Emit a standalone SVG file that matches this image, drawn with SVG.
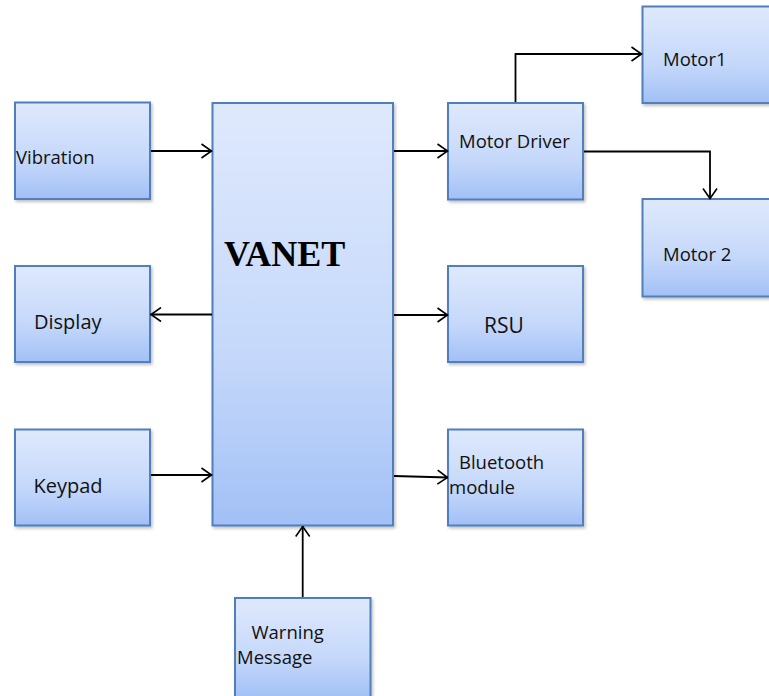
<svg xmlns="http://www.w3.org/2000/svg" width="769" height="696" viewBox="0 0 769 696">
  <defs>
    <linearGradient id="boxFill" x1="0" y1="0" x2="0" y2="1">
      <stop offset="0" stop-color="#dfe9fd"/>
      <stop offset="0.6" stop-color="#c5d8fa"/>
      <stop offset="1" stop-color="#a2c0f6"/>
    </linearGradient>
    <filter id="shadow" x="-10%" y="-10%" width="130%" height="130%">
      <feDropShadow dx="1.5" dy="2" stdDeviation="1.5" flood-color="#000" flood-opacity="0.25"/>
    </filter>
    <marker id="arrow" viewBox="0 0 12 16" refX="11.5" refY="8" markerWidth="12" markerHeight="16" markerUnits="userSpaceOnUse" orient="auto">
      <path d="M1,1 L11,8 L1,15" fill="none" stroke="#000" stroke-width="1.6"/>
    </marker>
  </defs>
  <style>
    .box { fill: url(#boxFill); stroke: #4f7fbd; stroke-width: 2; filter: url(#shadow); }
    .lbl { font-family: "Open Sans", "Liberation Sans", sans-serif; font-size: 18.5px; fill: #111; }
    .big { font-size: 20px; }
    .title { font-family: "Liberation Serif", "Times New Roman", serif; font-size: 36px; font-weight: bold; fill: #000; }
    .conn { fill: none; stroke: #000; stroke-width: 1.8; marker-end: url(#arrow); }
  </style>
  <rect width="769" height="696" fill="#fff"/>

  <g id="vibration">
    <rect class="box" x="15" y="102.5" width="135" height="96.5"/>
    <text class="lbl" x="16" y="164">Vibration</text>
  </g>
  <g id="display">
    <rect class="box" x="15" y="266" width="135" height="96"/>
    <text class="lbl big" x="34" y="329">Display</text>
  </g>
  <g id="keypad">
    <rect class="box" x="15" y="429.5" width="135" height="96"/>
    <text class="lbl big" x="33.5" y="492.5">Keypad</text>
  </g>
  <g id="vanet">
    <rect class="box" x="212.5" y="103" width="180.5" height="422.5"/>
    <text class="title" x="224" y="266">VANET</text>
  </g>
  <g id="warning">
    <rect class="box" x="235" y="598" width="135.5" height="100"/>
    <text class="lbl" x="251.5" y="638.5">Warning</text>
    <text class="lbl" x="237" y="664">Message</text>
  </g>
  <g id="motor-driver">
    <rect class="box" x="448" y="103" width="135" height="96.5"/>
    <text class="lbl" x="459" y="148">Motor Driver</text>
  </g>
  <g id="rsu">
    <rect class="box" x="448" y="266" width="135" height="96"/>
    <text class="lbl" x="484" y="332.5" style="font-size:21px">RSU</text>
  </g>
  <g id="bluetooth">
    <rect class="box" x="448" y="429.5" width="135" height="96"/>
    <text class="lbl" x="459" y="469">Bluetooth</text>
    <text class="lbl" x="449" y="494">module</text>
  </g>
  <g id="motor1">
    <rect class="box" x="642.5" y="6.5" width="140" height="96.5"/>
    <text class="lbl" x="663" y="66">Motor1</text>
  </g>
  <g id="motor2">
    <rect class="box" x="642.5" y="199" width="140" height="97.5"/>
    <text class="lbl" x="663" y="260.5">Motor 2</text>
  </g>

  <g id="connectors">
    <path class="conn" d="M151,151 H212"/>
    <path class="conn" d="M394,151 H448"/>
    <path class="conn" d="M515.5,102 V54 H642"/>
    <path class="conn" d="M584,151.5 H710 V199"/>
    <path class="conn" d="M212,314.5 H150.5"/>
    <path class="conn" d="M394,315 H448"/>
    <path class="conn" d="M151,475 H212"/>
    <path class="conn" d="M394,476 L448,477.5"/>
    <path class="conn" d="M302.7,597 V526"/>
  </g>
</svg>
